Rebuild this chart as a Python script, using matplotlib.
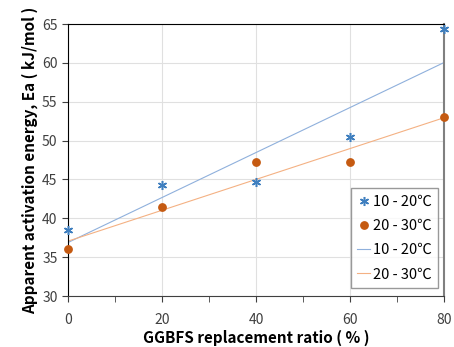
import numpy as np
import matplotlib
matplotlib.use("Agg")
import matplotlib.pyplot as plt

plt.rcParams['font.family'] = ['Noto Sans CJK KR', 'DejaVu Sans']

ratio = [0, 20, 40, 60, 80]
ea_10_20 = [38.5, 44.3, 44.7, 50.4, 64.4]
ea_20_30 = [36.1, 41.4, 47.2, 47.3, 53.0]

fig = plt.figure(figsize=(4.54, 3.47), dpi=100)
ax = fig.add_axes([68 / 454, 51 / 347, 376 / 454, 272 / 347])

x = np.array(ratio)
fit1 = np.polyfit(x, ea_10_20, 1)
fit2 = np.polyfit(x, ea_20_30, 1)
xs = np.array([0, 80])

# excel style asterisk: vertical bar plus two diagonals
ax.plot(x, ea_10_20, ls='none', marker=(6, 2, 0), color='#3f7fbf', ms=6.5, mew=1.1,
        label='10 - 20℃', zorder=4, clip_on=False)
ax.plot(x, ea_20_30, 'o', color='#c55a11', ms=5.3, label='20 - 30℃', zorder=4, clip_on=False)
ax.plot(xs, np.polyval(fit1, xs), color='#8fb0dc', lw=0.8, label='10 - 20℃')
ax.plot(xs, np.polyval(fit2, xs), color='#f4b183', lw=0.8, label='20 - 30℃')

ax.set_xlim(0, 80)
ax.set_ylim(30, 65)
ax.set_xticks([0, 20, 40, 60, 80])
ax.set_xticks([10, 30, 50, 70], minor=True)
ax.set_yticks(range(30, 66, 5))
ax.grid(True, color='#e0e0e0', lw=0.8)
ax.set_axisbelow(True)
ax.tick_params(which='both', direction='out', length=4, color='#404040', labelsize=10, labelcolor='#404040')
ax.tick_params(axis='x', pad=8)

ax.spines['top'].set_color('black')
ax.spines['left'].set_color('black')
ax.spines['bottom'].set_color('#404040')
ax.spines['right'].set_color('#808080')
ax.spines['right'].set_linewidth(1.5)

ax.set_xlabel('GGBFS replacement ratio ( % )', fontsize=11, fontweight='bold', labelpad=2)
ax.set_ylabel('Apparent activation energy, Ea ( kJ/mol )', fontsize=11, fontweight='bold', labelpad=3)

leg = ax.legend(loc='lower right', bbox_to_anchor=(0.984, 0.029), borderaxespad=0,
                fancybox=False, edgecolor='#808080', fontsize=10.5, handlelength=0.9,
                handletextpad=0.15, labelspacing=0.7, borderpad=0.45)
leg.get_frame().set_linewidth(1.0)

fig.savefig('out.png', dpi=100)
